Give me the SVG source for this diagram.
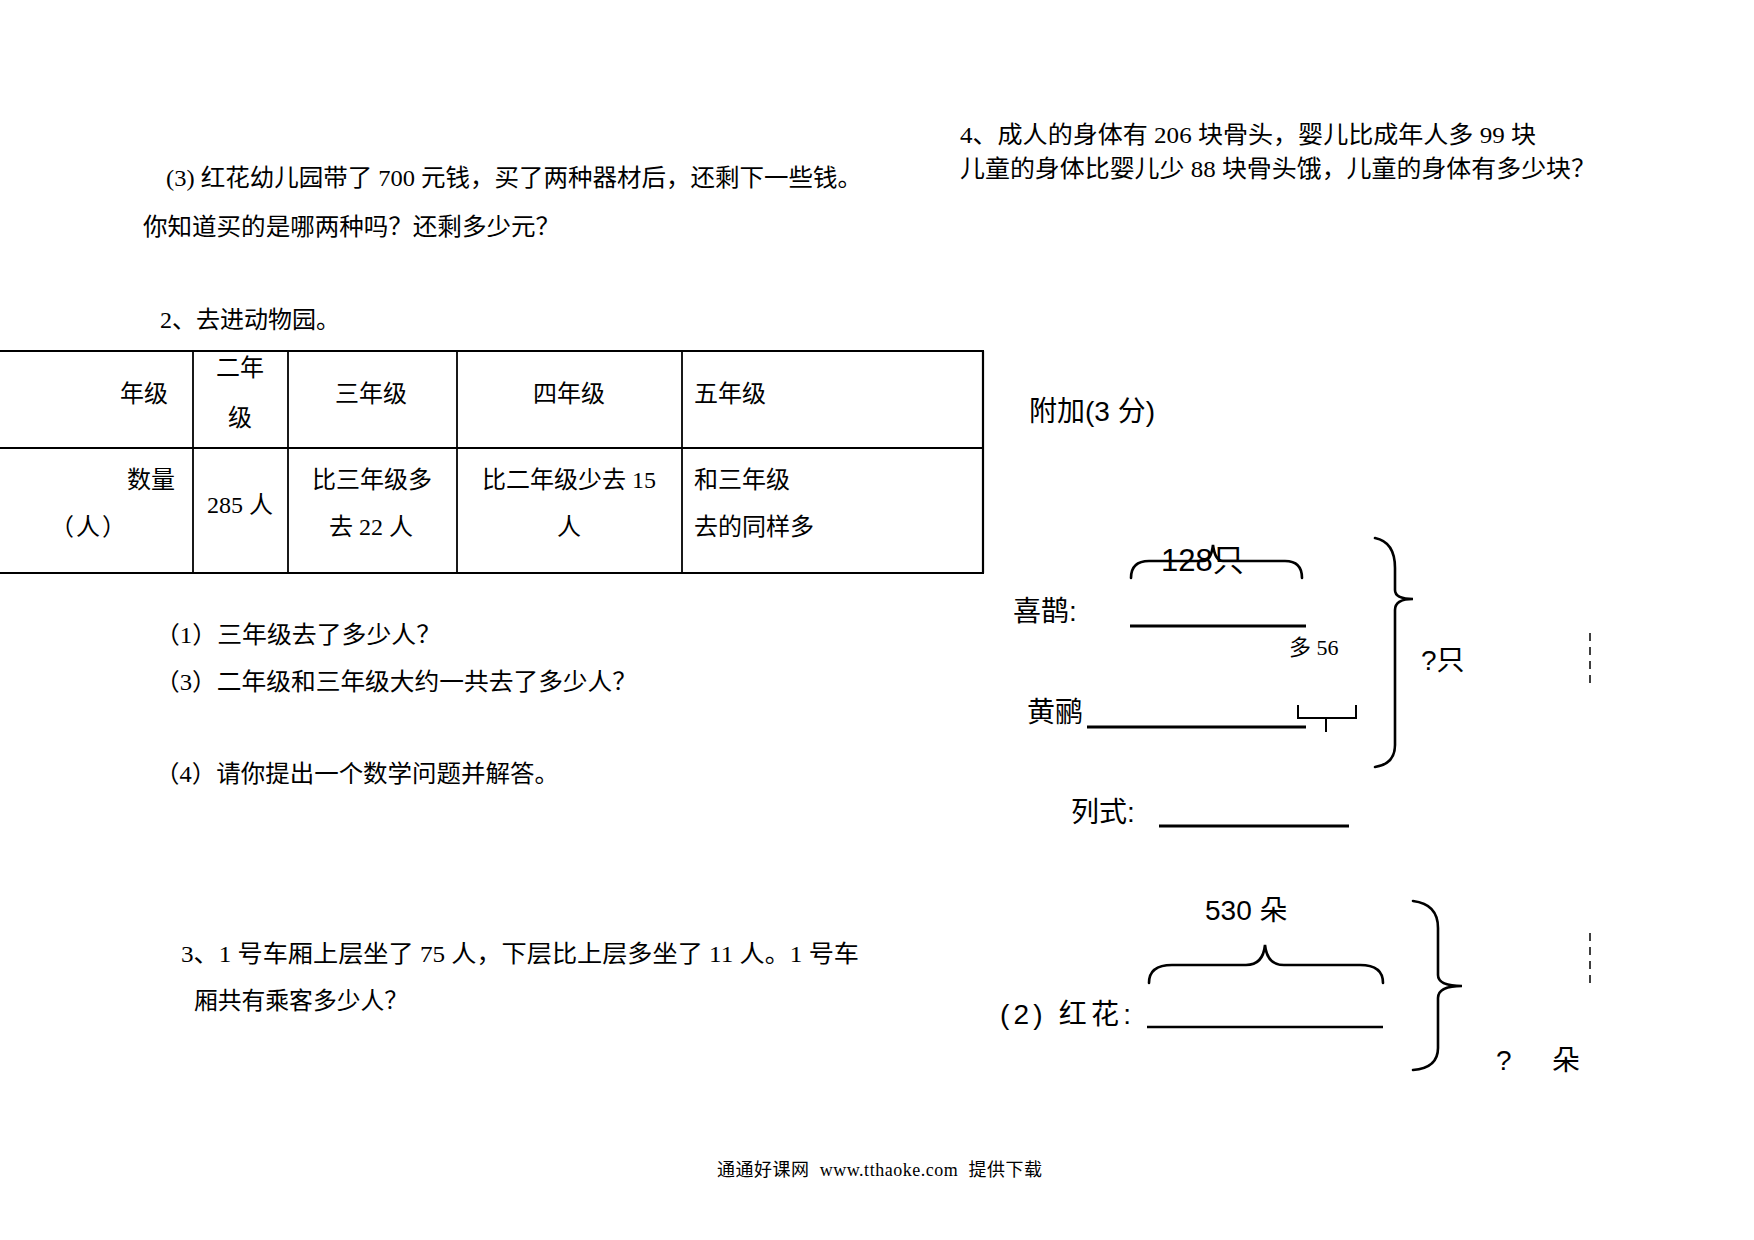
<svg xmlns="http://www.w3.org/2000/svg" width="1754" height="1240" viewBox="0 0 1754 1240">
<style>
.s{font-family:"Liberation Serif","Noto Sans CJK SC",serif;font-size:24px;fill:#000}
.f{font-family:"Liberation Serif","Noto Sans CJK SC",serif;font-size:18px;fill:#000}
.a{font-family:"Liberation Sans","Noto Sans CJK SC",sans-serif;font-size:28px;fill:#000}
.m{text-anchor:middle}
.e{text-anchor:end}
.tb{stroke:#000;stroke-width:2.2;fill:none}
.ti{stroke:#000;stroke-width:1.8;fill:none}
.br{stroke:#000;stroke-width:2.6;fill:none;stroke-linecap:round}
.ln{stroke:#000;stroke-width:3;fill:none}
.ds{stroke:#000;stroke-width:1.5;stroke-dasharray:8 6;fill:none}
</style>
<rect width="1754" height="1240" fill="#fff"/>

<g id="q3-money">
<text class="s" x="166" y="186" textLength="696" lengthAdjust="spacingAndGlyphs">(3) 红花幼儿园带了 700 元钱，买了两种器材后，还剩下一些钱。</text>
<text class="s" x="143" y="235" textLength="417" lengthAdjust="spacingAndGlyphs">你知道买的是哪两种吗？还剩多少元？</text>
</g>

<g id="q4-bones">
<text class="s" x="960" y="143" textLength="576" lengthAdjust="spacingAndGlyphs">4、成人的身体有 206 块骨头，婴儿比成年人多 99 块</text>
<text class="s" x="960" y="177" textLength="636" lengthAdjust="spacingAndGlyphs">儿童的身体比婴儿少 88 块骨头饿，儿童的身体有多少块？</text>
</g>

<g id="q2-zoo">
<text class="s" x="160" y="328" textLength="180" lengthAdjust="spacingAndGlyphs">2、去进动物园。</text>
</g>

<g id="table">
<line class="tb" x1="0" y1="351" x2="984" y2="351"/>
<line class="ti" x1="0" y1="448" x2="983" y2="448"/>
<line class="tb" x1="0" y1="573" x2="984" y2="573"/>
<line class="ti" x1="193" y1="351" x2="193" y2="573"/>
<line class="ti" x1="288" y1="351" x2="288" y2="573"/>
<line class="ti" x1="457" y1="351" x2="457" y2="573"/>
<line class="ti" x1="682" y1="351" x2="682" y2="573"/>
<line class="tb" x1="983" y1="351" x2="983" y2="573"/>
<text class="s e" x="168" y="402">年级</text>
<text class="s m" x="240" y="376">二年</text>
<text class="s m" x="240" y="426">级</text>
<text class="s m" x="371" y="402">三年级</text>
<text class="s m" x="569" y="402">四年级</text>
<text class="s" x="694" y="402">五年级</text>
<text class="s e" x="175" y="488">数量</text>
<text class="s" x="50" y="535" textLength="76" lengthAdjust="spacing">（人）</text>
<text class="s m" x="240" y="513">285 人</text>
<text class="s m" x="372" y="488">比三年级多</text>
<text class="s m" x="371" y="535">去 22 人</text>
<text class="s m" x="569" y="488">比二年级少去 15</text>
<text class="s m" x="569" y="535">人</text>
<text class="s" x="694" y="488">和三年级</text>
<text class="s" x="694" y="535">去的同样多</text>
</g>

<g id="q2-questions">
<text class="s" x="155" y="643" textLength="286" lengthAdjust="spacingAndGlyphs">（1）三年级去了多少人？</text>
<text class="s" x="155" y="690" textLength="482" lengthAdjust="spacingAndGlyphs">（3）二年级和三年级大约一共去了多少人？</text>
<text class="s" x="155" y="782" textLength="404" lengthAdjust="spacingAndGlyphs">（4）请你提出一个数学问题并解答。</text>
</g>

<g id="q3-train">
<text class="s" x="181" y="962" textLength="678" lengthAdjust="spacingAndGlyphs">3、1 号车厢上层坐了 75 人，下层比上层多坐了 11 人。1 号车</text>
<text class="s" x="194" y="1009" textLength="214" lengthAdjust="spacingAndGlyphs">厢共有乘客多少人？</text>
</g>

<g id="bonus-title">
<text class="a" x="1029" y="421">附加(3 分)</text>
</g>

<g id="birds">
<text class="a" x="1013" y="621">喜鹊:</text>
<text class="a" x="1027" y="722">黄鹂</text>
<text class="a" x="1161" y="571" style="font-size:31px">128只</text>
<text class="s" x="1289" y="655" style="font-size:22px">多 56</text>
<text class="a" x="1421" y="670">?只</text>
<text class="a" x="1071" y="822">列式:</text>
</g>

<g id="flowers">
<text class="a" x="1205" y="920">530 朵</text>
<text class="a" x="1000" y="1024" textLength="131" lengthAdjust="spacing">(2) 红花:</text>
<text class="a" x="1496" y="1070">?</text>
<text class="a" x="1552" y="1070">朵</text>
</g>

<g id="connectors">
<line class="ln" x1="1130" y1="626" x2="1306" y2="626"/>
<line class="ln" x1="1087" y1="727" x2="1306" y2="727"/>
<line class="ln" x1="1159" y1="826" x2="1349" y2="826"/>
<line class="ln" x1="1147" y1="1027" x2="1383" y2="1027" style="stroke-width:2.5"/>
<path class="br" d="M1131,578 Q1131,561 1149,561 L1203,561 Q1211,561 1213,545 Q1215,561 1223,561 L1285,561 Q1302,561 1302,578"/>
<path class="ti" d="M1298,705 L1298,718 L1356,718 L1356,705 M1326,718 L1326,732" style="stroke-width:2"/>
<path class="br" d="M1375,538 Q1395,542 1395,568 L1395,590 Q1395,599 1413,599 Q1395,599 1395,610 L1395,745 Q1395,764 1375,767"/>
<path class="br" d="M1149,983 Q1149,965 1172,965 L1246,965 Q1263,965 1265,945 Q1267,965 1284,965 L1360,965 Q1383,965 1383,983"/>
<path class="br" d="M1413,901 Q1438,904 1438,928 L1438,975 Q1438,986 1462,986 Q1438,986 1438,998 L1438,1048 Q1438,1068 1413,1070"/>
<line class="ds" x1="1590" y1="633" x2="1590" y2="683"/>
<line class="ds" x1="1590" y1="933" x2="1590" y2="983"/>
</g>

<g id="footer">
<text class="f" x="717" y="1176" xml:space="preserve" textLength="325" lengthAdjust="spacing">通通好课网  www.tthaoke.com  提供下载</text>
</g>
</svg>
